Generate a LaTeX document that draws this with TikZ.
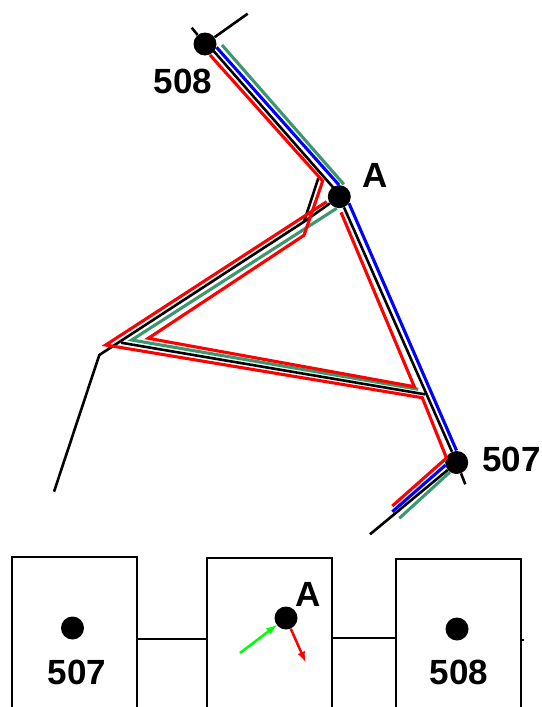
\documentclass[tikz,border=0pt]{standalone}
\usepackage{fontspec}
\setmainfont{Liberation Sans}
\definecolor{routegreen}{RGB}{60,150,110}
\tikzset{
  dotnode/.style={circle,fill=black,inner sep=0pt,minimum size=23pt},
  namenode/.style={font=\fontsize{35}{37}\selectfont\bfseries,inner sep=0pt},
  boxnode/.style={draw,line width=2.2pt,minimum width=125pt,inner sep=0pt},
  wire/.style={line width=2.6pt},
  route/.style={line width=3.1pt}
}
\begin{document}
\begin{tikzpicture}[x=1pt,y=-1pt]
      \clip (0,0) rectangle (541,707);
      %\draw [help lines] (0,0) grid (541,707);
      \node[dotnode] (508) at (205,44) {};
      \node[dotnode] (A) at (339.3,196.7) {};
      \node[dotnode] (507) at (456.7,462.5) {};
      \node[namenode] (l508) at (183,81) {508};
      \node[namenode] (lA) at (375,175) {A};
      \node[namenode] (l507) at (511.5,459) {507};

      \coordinate (nw) at (191.7,27.7);
      \coordinate (ne) at (247.7,13.7);
      \coordinate (mt) at (207.5,44);
      \coordinate (mb) at (341.5,197);
      \coordinate (kt) at (318.3,178.3);
      \coordinate (kb) at (304,221.7);
      \coordinate (bend) at (99.3,355);
      \coordinate (end) at (54,491.7);
      \coordinate (se) at (465.3,484.3);
      \coordinate (sw) at (370,534.3);
      \coordinate (ba) at (121,342.7);
      \coordinate (bj) at (425,394.3);

      \draw[wire] (508) to (nw);
      \draw[wire] (508) to (ne);
      \draw[wire] (mt) to (mb);
      \draw[wire] (A) to (507);
      \draw[wire] (kt) to (kb);
      \draw[wire] (A) to (kb) to (bend) to (end);
      \draw[wire] (507) to (se);
      \draw[wire] (507) to (sw);
      \draw[wire] (ba) to (bj);

      \coordinate (b1) at (216.5,47.3);
      \coordinate (b2) at (339,185);
      \coordinate (b3) at (349,203.3);
      \coordinate (b4) at (456.5,450.5);
      \coordinate (b5) at (445.7,465);
      \coordinate (b6) at (392.3,511.7);
      \draw[route,blue] (b1) to (b2);
      \draw[route,blue] (b3) to (b4);
      \draw[route,blue] (b5) to (b6);

      \coordinate (g1) at (222,45);
      \coordinate (g2) at (343.8,184.3);
      \coordinate (g3) at (336.7,208.3);
      \coordinate (g4) at (131.7,340);
      \coordinate (g5) at (418.3,389.3);
      \coordinate (g6) at (450,472);
      \coordinate (g7) at (399.3,518.3);
      \draw[route,routegreen] (g1) to (g2);
      \draw[route,routegreen] (g3) -- (g4) -- (g5);
      \draw[route,routegreen] (g6) to (g7);

      \coordinate (r1) at (210,55);
      \coordinate (r2) at (322.7,181);
      \coordinate (r3) at (304,235.3);
      \coordinate (r4) at (148.3,338.3);
      \coordinate (r5) at (414.3,386.7);
      \coordinate (r6) at (341,212.3);
      \coordinate (r7) at (326.7,201.7);
      \coordinate (r8) at (105.7,345);
      \coordinate (r9) at (422.3,397.7);
      \coordinate (r10) at (446.5,458);
      \coordinate (r11) at (392.3,506);
      \draw[route,red] (r1) -- (r2) -- (r3) -- (r4) -- (r5) -- (r6);
      \draw[route,red] (r7) -- (r8) -- (r9) -- (r10) -- (r11);

      \node[boxnode,minimum height=164pt] (box507) at (74.5,639) {};
      \node[boxnode,minimum height=162pt] (boxA) at (269.5,639) {};
      \node[boxnode,minimum height=158pt] (box508) at (458.5,638) {};
      \coordinate (tick) at (523.5,640);
      \draw[wire] (box507) to (boxA);
      \draw[wire] (boxA.east |- box508) to (box508);
      \draw[line width=1.5pt] (box508.east |- tick) to (tick);

      \node[dotnode] (d507) at (72.5,628) {};
      \node[dotnode] (dA) at (286,618) {};
      \node[dotnode] (d508) at (457,629) {};
      \node[namenode] (n507) at (77,672) {507};
      \node[namenode] (nA) at (308,594) {A};
      \node[namenode] (n508) at (459,672) {508};

      \coordinate (in) at (240,653);
      \coordinate (out) at (305.5,662);
      \draw[-latex,line width=2.5pt,green] (in) to (dA);
      \draw[-latex,line width=2.5pt,red] (dA) to (out);
    \end{tikzpicture}
\end{document}
